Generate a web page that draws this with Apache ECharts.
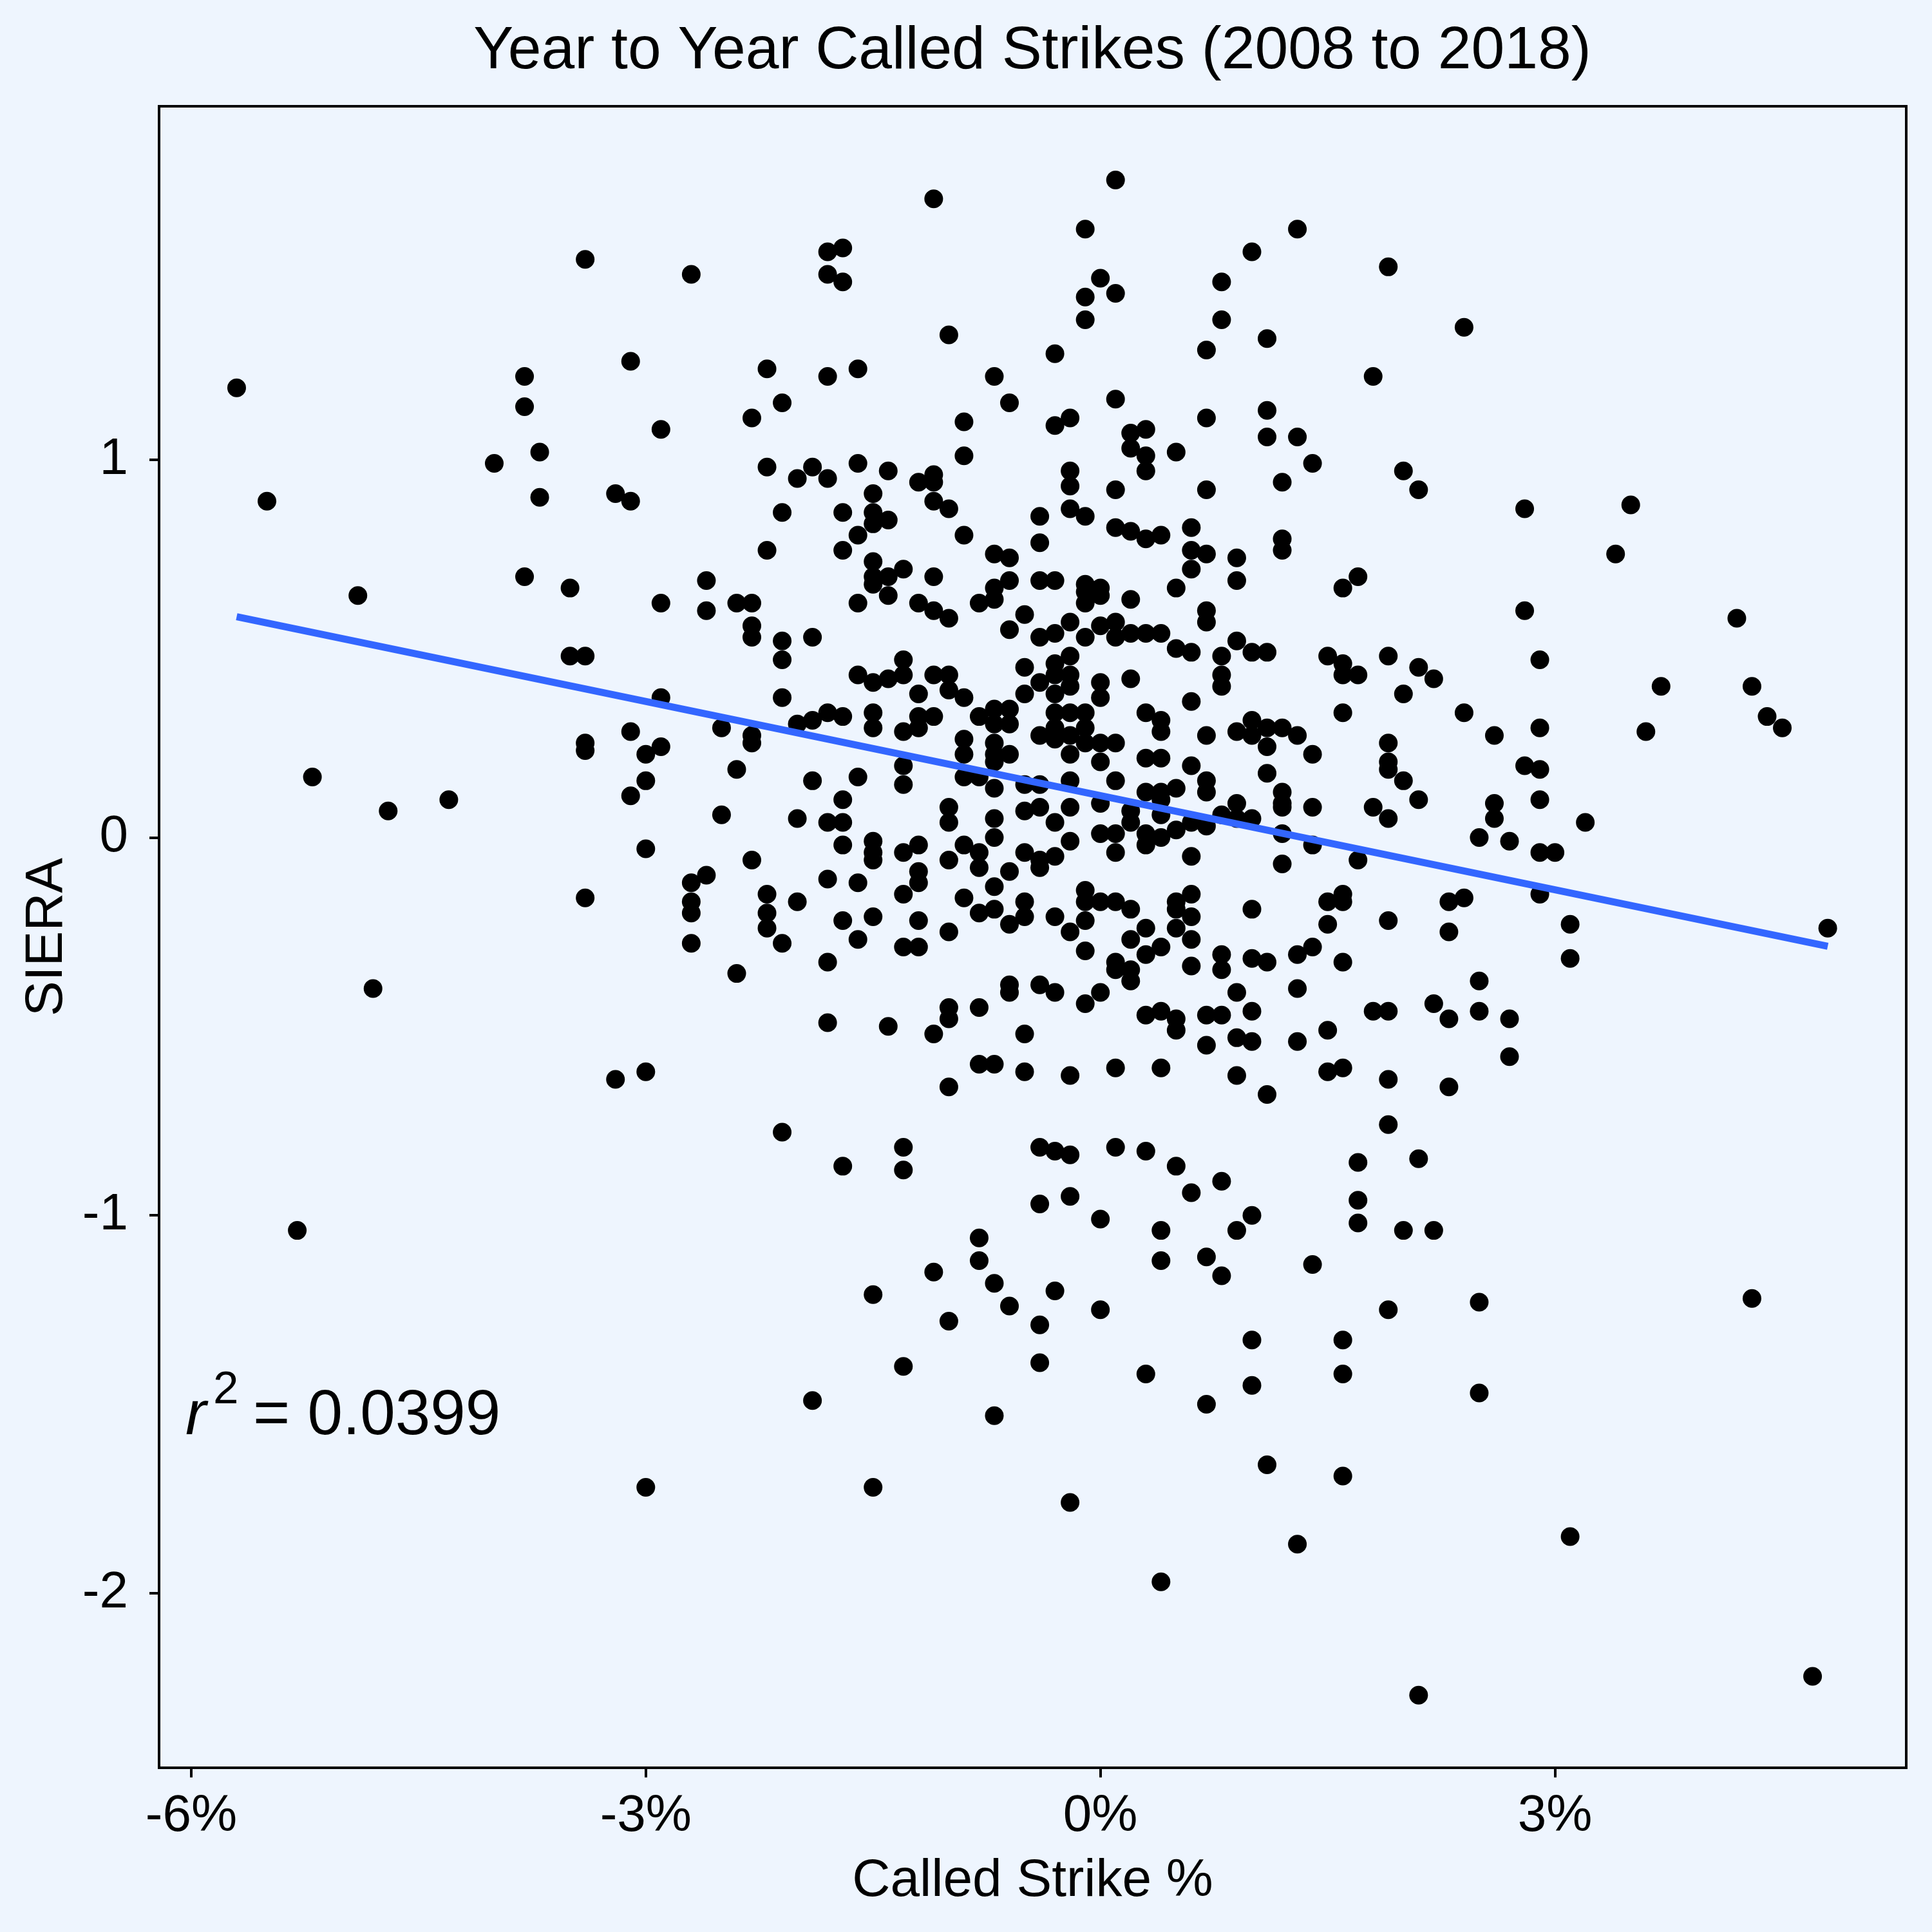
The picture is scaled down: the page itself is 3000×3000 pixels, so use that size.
<!DOCTYPE html>
<html>
<head>
<meta charset="utf-8">
<script src="https://cdn.jsdelivr.net/npm/echarts@6/dist/echarts.min.js"></script>
<style>
html,body{margin:0;padding:0;background:#EEF5FE;}
#chart{width:3000px;height:3000px;}
</style>
</head>
<body>
<div id="chart"></div>
<script>
// Called Strike % change (x columns, 0.1% steps)
const calledStrikePct = [-5.7,-5.5,-5.3,-5.2,-4.9,-4.8,-4.7,-4.3,-4.0,
  -3.8,-3.7,-3.5,-3.4,-3.2,-3.1,-3.0,-2.9,-2.7,-2.6,-2.5,-2.4,-2.3,-2.2,-2.1,-2.0,-1.9,-1.8,-1.7,-1.6,-1.5,-1.4,-1.3,-1.2,-1.1,-1.0,-0.9,-0.8,-0.7,-0.6,-0.5,-0.4,-0.3,-0.2,-0.1,
  0.0,0.1,0.2,0.3,0.4,0.5,0.6,0.7,0.8,0.9,1.0,1.1,1.2,1.3,1.4,1.5,1.6,1.7,1.8,1.9,2.0,2.1,2.2,2.3,2.4,2.5,2.6,2.7,2.8,2.9,
  3.0,3.1,3.2,3.4,3.5,3.6,3.7,4.2,4.3,4.4,4.5,4.7,4.8];

// SIERA change values for each x column above
const sieraByColumn = [
  [1.19],[0.89],[-1.04],[0.16],[0.64],[-0.40],[0.07],[0.10],[0.99],
  [1.22,1.14,0.69],
  [1.02,0.90],
  [0.66,0.48],
  [1.53,0.48,0.25,0.23,-0.16],
  [0.91,-0.64],
  [1.26,0.89,0.28,0.11],
  [0.22,0.15,-0.03,-0.62,-1.72],
  [1.08,0.62,0.37,0.24],
  [1.49,-0.12,-0.17,-0.20,-0.28],
  [0.68,0.60,-0.10],
  [0.29,0.06],
  [0.62,0.18,-0.36],
  [1.11,0.62,0.56,0.53,0.27,0.25,-0.06],
  [1.24,0.98,0.76,-0.15,-0.20,-0.24],
  [1.15,0.86,0.52,0.47,0.37,-0.28,-0.78],
  [0.95,0.30,0.05,-0.17],
  [0.98,0.53,0.31,0.15,-1.49],
  [1.55,1.49,1.22,0.95,0.33,0.04,-0.11,-0.33,-0.49],
  [1.56,1.47,0.86,0.76,0.32,0.10,0.04,-0.02,-0.22,-0.87],
  [1.24,0.99,0.80,0.62,0.43,0.16,-0.12,-0.27],
  [0.91,0.86,0.83,0.73,0.69,0.67,0.41,0.33,0.29,-0.01,-0.04,-0.06,-0.21,-1.21,-1.72],
  [0.97,0.84,0.69,0.64,0.42,-0.50],
  [0.71,0.47,0.43,0.28,0.19,0.14,-0.04,-0.15,-0.29,-0.82,-0.88,-1.40],
  [0.94,0.62,0.38,0.32,0.29,-0.02,-0.09,-0.12,-0.22,-0.29],
  [1.69,0.96,0.94,0.89,0.69,0.60,0.43,0.32,-0.52,-1.15],
  [1.33,0.87,0.58,0.43,0.39,0.08,0.04,-0.06,-0.25,-0.45,-0.48,-0.66,-1.28],
  [1.10,1.01,0.80,0.37,0.26,0.22,0.16,-0.02,-0.16],
  [0.62,0.32,0.16,-0.04,-0.08,-0.20,-0.45,-0.60,-1.06,-1.12],
  [1.22,0.75,0.66,0.63,0.34,0.30,0.25,0.22,0.20,0.13,0.05,0.00,-0.13,-0.19,-0.60,-1.18,-1.53],
  [1.15,0.74,0.68,0.55,0.34,0.30,0.22,-0.09,-0.23,-0.39,-0.41,-1.24],
  [0.59,0.45,0.38,0.14,0.07,-0.04,-0.17,-0.21,-0.52,-0.62],
  [0.85,0.78,0.68,0.53,0.41,0.27,0.14,0.08,-0.06,-0.08,-0.39,-0.82,-0.97,-1.29,-1.39],
  [1.28,1.09,0.68,0.54,0.46,0.43,0.38,0.33,0.29,0.26,0.04,-0.05,-0.21,-0.41,-0.83,-1.20],
  [1.11,0.97,0.93,0.87,0.57,0.48,0.43,0.40,0.33,0.27,0.22,0.15,0.08,-0.01,-0.25,-0.63,-0.84,-0.95,-1.76],
  [1.61,1.43,1.37,0.85,0.67,0.65,0.62,0.53,0.33,0.29,0.25,-0.14,-0.17,-0.22,-0.30,-0.44],
  [1.48,0.66,0.64,0.56,0.41,0.37,0.25,0.20,0.09,0.01,-0.17,-0.41,-1.01,-1.25],
  [1.74,1.44,1.16,0.92,0.82,0.57,0.53,0.25,0.15,0.01,-0.04,-0.17,-0.33,-0.35,-0.61,-0.82],
  [1.07,1.03,0.81,0.63,0.54,0.42,0.07,0.04,-0.19,-0.27,-0.35,-0.38],
  [1.08,1.01,0.97,0.79,0.54,0.33,0.21,0.12,0.01,-0.02,-0.24,-0.31,-0.47,-0.83,-1.42],
  [0.80,0.54,0.31,0.28,0.21,0.12,0.10,0.06,0.00,-0.29,-0.46,-0.61,-1.04,-1.12,-1.97],
  [1.02,0.66,0.50,0.13,0.02,-0.17,-0.19,-0.24,-0.48,-0.51,-0.87],
  [0.82,0.76,0.71,0.49,0.36,0.19,0.04,-0.05,-0.15,-0.21,-0.27,-0.34,-0.94],
  [1.29,1.11,0.92,0.75,0.60,0.57,0.27,0.15,0.12,0.03,-0.47,-0.55,-1.11,-1.50],
  [1.47,1.37,0.48,0.43,0.40,0.06,-0.31,-0.35,-0.47,-0.91,-1.16],
  [0.74,0.68,0.52,0.28,0.09,0.05,-0.41,-0.53,-0.63,-1.04],
  [1.55,0.49,0.31,0.27,0.05,-0.19,-0.32,-0.46,-0.54,-1.00,-1.33,-1.45],
  [1.32,1.13,1.06,0.49,0.29,0.24,0.17,-0.33,-0.68,-1.66],
  [0.94,0.79,0.76,0.29,0.12,0.09,0.08,0.01,-0.07],
  [1.61,1.06,0.27,-0.31,-0.40,-0.54,-1.87],
  [0.99,0.22,0.08,-0.02,-0.29,-1.13],
  [0.48,-0.17,-0.23,-0.51,-0.62],
  [0.66,0.46,0.43,0.33,-0.15,-0.17,-0.33,-0.61,-1.33,-1.42,-1.69],
  [0.69,0.43,-0.06,-0.86,-0.96,-1.02],
  [1.22,0.08,-0.46],
  [1.51,0.48,0.25,0.20,0.18,0.05,-0.22,-0.46,-0.64,-0.76,-1.25],
  [0.97,0.38,0.15,-1.04],
  [0.92,0.45,0.10,-0.85,-2.27],
  [0.42,-0.44,-1.04],
  [-0.17,-0.25,-0.48,-0.66],
  [1.35,0.33,-0.16],
  [0.00,-0.38,-0.46,-1.23,-1.47],
  [0.27,0.09,0.05],
  [-0.01,-0.48,-0.58],
  [0.87,0.60,0.19],
  [0.47,0.29,0.18,0.10,-0.04,-0.15],
  [-0.04],
  [-0.23,-0.32,-1.85],
  [0.04],[0.75],[0.88],[0.28],[0.40],[0.58],
  [0.40,-1.22],
  [0.32],[0.29],[-2.22],[-0.24]
];

// Fitted regression line (start and end)
const trendX = [-5.7, 4.8];
const trendY = [0.584, -0.288];

const xTicks = [-6, -3, 0, 3];
const yTicks = [-2, -1, 0, 1];

const titleText = 'Year to Year Called Strikes (2008 to 2018)';
const xTitle = 'Called Strike %';
const yTitle = 'SIERA';
const r2Value = '0.0399';

const points = [];
const n = Math.min(calledStrikePct.length, sieraByColumn.length);
for (let i = 0; i < n; i++) {
  for (const v of sieraByColumn[i]) points.push([calledStrikePct[i], v]);
}
const trend = trendX.map((x, i) => [x, trendY[i]]);

const FONT = '"Liberation Sans", Arial, Helvetica, sans-serif';
const chart = echarts.init(document.getElementById('chart'), null, {renderer: 'canvas'});
chart.setOption({
  animation: false,
  backgroundColor: '#EEF5FE',
  textStyle: {fontFamily: FONT},
  grid: {
    left: 247, right: 40, top: 165, bottom: 255,
    show: true, borderColor: '#000', borderWidth: 4,
    backgroundColor: 'transparent',
    outerBoundsMode: 'none'
  },
  xAxis: {
    type: 'value', min: -6.212, max: 5.318, position: 'bottom',
    name: xTitle, nameLocation: 'middle', nameGap: 135,
    nameTextStyle: {fontSize: 82, color: '#000', fontFamily: FONT},
    axisLine: {show: false, onZero: false},
    splitLine: {show: false},
    axisTick: {show: true, inside: false, length: 15, customValues: xTicks, lineStyle: {color: '#000', width: 4}},
    axisLabel: {customValues: xTicks, formatter: v => v + '%', fontSize: 80, color: '#000', margin: 36, fontFamily: FONT}
  },
  yAxis: {
    type: 'value', min: -2.462, max: 1.935, position: 'left',
    name: yTitle, nameLocation: 'middle', nameGap: 133,
    nameTextStyle: {fontSize: 82, color: '#000', fontFamily: FONT},
    axisLine: {show: false, onZero: false},
    splitLine: {show: false},
    axisTick: {show: true, inside: false, length: 15, customValues: yTicks, lineStyle: {color: '#000', width: 4}},
    axisLabel: {customValues: yTicks, fontSize: 80, color: '#000', margin: 48, fontFamily: FONT}
  },
  series: [
    {
      type: 'scatter', data: points, symbol: 'circle', symbolSize: 29,
      itemStyle: {color: '#000', opacity: 1}, z: 2, silent: true
    },
    {
      type: 'line', data: trend, showSymbol: false, symbol: 'none',
      lineStyle: {color: '#3366FF', width: 11}, z: 3, silent: true
    }
  ],
  graphic: [
    {type: 'text', x: 1603, y: 80, z: 10,
      style: {text: titleText, fontSize: 93, fontFamily: FONT, fill: '#000', align: 'center', verticalAlign: 'middle'}},
    {type: 'text', x: 288, y: 2200, z: 10,
      style: {text: 'r', fontSize: 97, fontStyle: 'italic', fontFamily: FONT, fill: '#000', align: 'left', verticalAlign: 'middle'}},
    {type: 'text', x: 331, y: 2159, z: 10,
      style: {text: '2', fontSize: 71, fontFamily: FONT, fill: '#000', align: 'left', verticalAlign: 'middle'}},
    {type: 'text', x: 393, y: 2200, z: 10,
      style: {text: '= ' + r2Value, fontSize: 98, fontFamily: FONT, fill: '#000', align: 'left', verticalAlign: 'middle'}}
  ]
});
</script>
</body>
</html>
